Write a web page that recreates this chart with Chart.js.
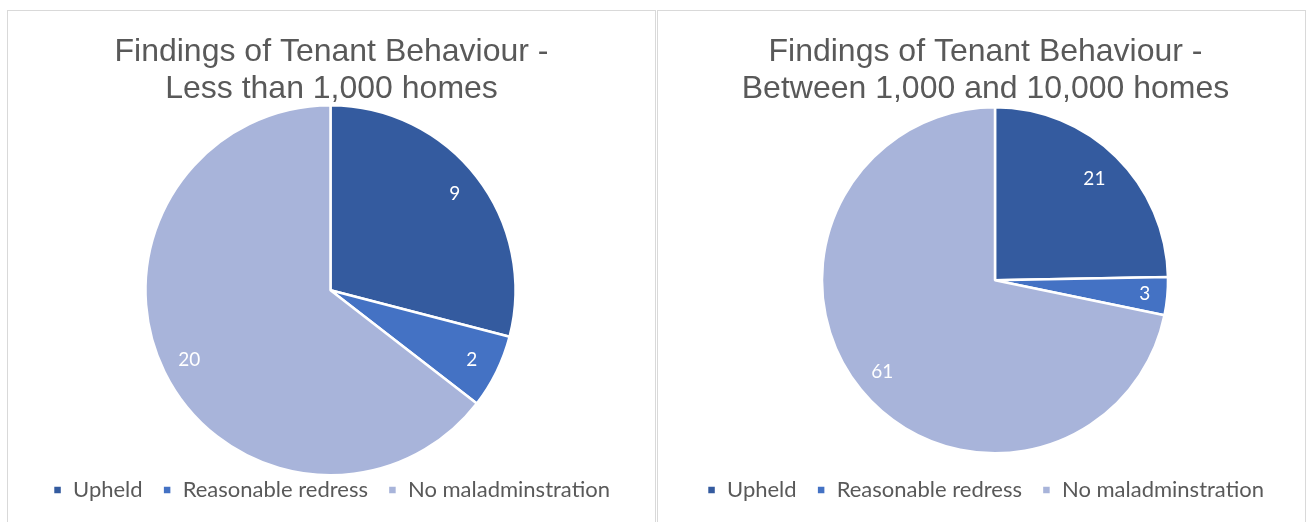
<!DOCTYPE html>
<html>
<head>
<meta charset="utf-8">
<script src="https://cdn.jsdelivr.net/npm/chart.js@4.4.0/dist/chart.umd.min.js"></script>
<style>
  html, body { margin: 0; padding: 0; background: #fff; }
  body { width: 1307px; height: 522px; position: relative; overflow: hidden; }
  .box { position: absolute; top: 10px; width: 649px; height: 520px; border: 1px solid #d9d9d9; box-sizing: border-box; background: #fff; }
  #leftBox { left: 7px; }
  #rightBox { left: 657px; }
  canvas { display: block; }
</style>
</head>
<body>
<div class="box" id="leftBox"><canvas id="pieLeft"></canvas></div>
<div class="box" id="rightBox"><canvas id="pieRight"></canvas></div>
<script>
var categories = ['Upheld', 'Reasonable redress', 'No maladminstration'];
var smallValues = [9, 2, 20];
var mediumValues = [21, 3, 61];
var titleSmall = ['Findings of Tenant Behaviour -', 'Less than 1,000 homes'];
var titleMedium = ['Findings of Tenant Behaviour -', 'Between 1,000 and 10,000 homes'];
var sliceColors = ['#345b9f', '#4472c4', '#a8b4da'];

// nudge the pie inside its box (Excel doesn't centre it exactly)
var shiftPie = {
    id: 'shiftPie',
    afterLayout: function(chart, args, opts) {
        var a = chart.chartArea;
        a.left += opts.dx; a.right += opts.dx;
        a.top += opts.dy; a.bottom += opts.dy;
    }
};

// white value labels inside each slice
var sliceLabels = {
    id: 'sliceLabels',
    afterDatasetsDraw: function(chart, args, opts) {
        var ctx = chart.ctx;
        var meta = chart.getDatasetMeta(0);
        var values = chart.data.datasets[0].data;
        ctx.save();
        ctx.font = '19px Lato, "Open Sans", sans-serif';
        ctx.fillStyle = '#ffffff';
        ctx.textAlign = 'center';
        ctx.textBaseline = 'middle';
        meta.data.forEach(function(arc, i) {
            var mid = (arc.startAngle + arc.endAngle) / 2;
            var r = arc.outerRadius * opts.fraction[i];
            ctx.fillText(String(values[i]), arc.x + Math.cos(mid) * r, arc.y + Math.sin(mid) * r);
        });
        ctx.restore();
    }
};

function makePie(id, values, title, radius, padLeft, shift, fractions) {
    var ctx = document.getElementById(id).getContext('2d');
    return new Chart(ctx, {
        type: 'pie',
        data: {
            labels: categories,
            datasets: [{
                data: values,
                backgroundColor: sliceColors,
                borderColor: '#ffffff',
                borderWidth: 2.5,
                radius: radius,
                hoverOffset: 0
            }]
        },
        options: {
            responsive: true,
            maintainAspectRatio: false,
            animation: false,
            layout: { padding: { left: padLeft, right: 0, top: 0, bottom: 18 } },
            plugins: {
                title: {
                    display: true,
                    text: title,
                    color: '#595959',
                    font: { family: '"Liberation Sans", Arial, sans-serif', size: 32, weight: 'normal', lineHeight: 1.15 },
                    padding: { top: 23, bottom: 8 }
                },
                legend: {
                    position: 'bottom',
                    labels: {
                        color: '#595959',
                        boxWidth: 9,
                        boxHeight: 9,
                        padding: 20,
                        font: { family: 'Lato, "Open Sans", sans-serif', size: 22 }
                    }
                },
                tooltip: { enabled: false },
                shiftPie: shift,
                sliceLabels: { fraction: fractions }
            }
        },
        plugins: [shiftPie, sliceLabels]
    });
}

makePie('pieLeft', smallValues, titleSmall, 185, 0, { dx: -1, dy: 3 }, [0.85, 0.85, 0.85]);
makePie('pieRight', mediumValues, titleMedium, 173, 8, { dx: 9.5, dy: -7 }, [0.82, 0.87, 0.84]);
</script>
</body>
</html>
